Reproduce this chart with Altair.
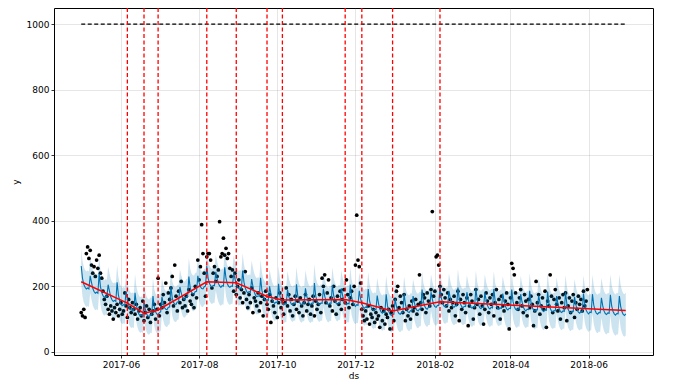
import altair as alt
import pandas as pd

START = "2017-05-01"

# observed daily values (history), from 2017-05-01
y_obs = [
    120, 110, 130, 105, 300, 320, 285, 310, 265, 240,
    260, 230, 280, 255, 295, 240, 225, 185, 160, 145,
    170, 130, 115, 140, 125, 100, 135, 120, 145, 110,
    130, 150, 115, 125, 180, 140, 105, 160, 135, 120,
    150, 130, 115, 145, 100, 125, 135, 110, 155, 95,
    120, 140, 105, 130, 90, 115, 125, 145, 100, 130,
    225, 110, 145, 135, 175, 150, 210, 120, 180, 160,
    195, 230, 140, 265, 170, 125, 185, 150, 215, 135,
    160, 140, 170, 125, 190, 155, 145, 175, 135, 200,
    165, 280, 220, 260, 388, 300, 240, 170, 290, 300,
    300, 280, 195, 240, 260, 215, 230, 250, 397, 290,
    300, 347, 295, 316, 285, 300, 255, 230, 250, 185,
    240, 175, 200, 220, 165, 190, 150, 180, 245, 160,
    135, 175, 150, 195, 120, 165, 155, 140, 180, 125,
    150, 170, 110, 160, 185, 145, 130, 175, 90, 155,
    140, 120, 165, 105, 150, 180, 135, 160, 115, 150,
    195, 140, 175, 125, 160, 110, 145, 170, 130, 155,
    120, 165, 140, 110, 150, 175, 125, 145, 160, 115,
    140, 170, 110, 155, 130, 145, 175, 120, 225, 200,
    235, 150, 180, 220, 140, 165, 125, 200, 155, 115,
    170, 145, 185, 130, 160, 190, 150, 220, 175, 135,
    165, 185, 145, 200, 265, 417, 280, 260, 210, 130,
    110, 95, 125, 100, 140, 85, 115, 105, 130, 90,
    120, 100, 110, 75, 135, 95, 125, 85, 115, 105,
    130, 70, 120, 140, 95, 160, 185, 200, 135, 170,
    150, 120, 175, 95, 130, 110, 140, 100, 155, 125,
    135, 160, 115, 145, 235, 150, 130, 175, 165, 120,
    180, 155, 140, 190, 428, 170, 185, 290, 295, 265,
    200, 175, 150, 190, 165, 140, 180, 125, 160, 135,
    150, 170, 110, 145, 185, 95, 160, 130, 175, 150,
    120, 165, 80, 140, 175, 155, 100, 135, 190, 145,
    160, 115, 170, 140, 85, 130, 180, 155, 120, 165,
    145, 175, 110, 150, 190, 135, 160, 100, 170, 140,
    125, 155, 180, 145, 70, 165, 270, 255, 235, 180,
    150, 130, 165, 190, 140, 120, 175, 155, 110, 160,
    135, 170, 145, 80, 125, 215, 150, 175, 115, 140,
    165, 130, 185, 75, 155, 140, 235, 170, 120, 160,
    190, 145, 125, 165, 100, 150, 175, 135, 180, 95,
    140, 165, 120, 155, 175, 105, 150, 130, 170, 145,
    160, 125, 185, 140, 155, 190,
]

# forecast (yhat) daily, from 2017-05-01 to 2018-06-30, one row per week
yhat = [
    262, 224, 206, 197, 192, 195, 192,
    232, 212, 194, 184, 179, 182, 179,
    238, 199, 181, 171, 166, 170, 167,
    205, 186, 168, 159, 154, 157, 154,
    212, 174, 156, 146, 141, 144, 142,
    184, 161, 143, 132, 127, 129, 126,
    180, 144, 126, 115, 110, 113, 109,
    150, 131, 116, 109, 107, 113, 112,
    170, 137, 122, 115, 113, 120, 122,
    168, 149, 135, 130, 129, 136, 137,
    200, 165, 151, 146, 145, 152, 153,
    198, 181, 167, 161, 161, 168, 169,
    230, 197, 183, 177, 176, 184, 185,
    232, 212, 199, 193, 192, 199, 201,
    262, 226, 210, 202, 198, 203, 202,
    244, 225, 209, 201, 197, 202, 201,
    258, 224, 208, 200, 197, 201, 200,
    240, 223, 207, 197, 193, 196, 193,
    248, 213, 195, 185, 180, 184, 181,
    222, 200, 183, 173, 168, 171, 169,
    226, 188, 170, 161, 156, 159, 157,
    200, 178, 161, 152, 148, 152, 150,
    208, 172, 155, 146, 143, 148, 147,
    190, 170, 154, 146, 143, 148, 147,
    206, 171, 155, 147, 144, 149, 148,
    194, 171, 155, 147, 144, 149, 148,
    210, 171, 155, 147, 144, 149, 148,
    192, 171, 155, 147, 144, 149, 148,
    204, 172, 156, 148, 145, 150, 149,
    194, 172, 156, 148, 144, 148, 147,
    205, 168, 152, 143, 139, 144, 142,
    186, 163, 146, 137, 133, 137, 135,
    192, 156, 139, 130, 126, 130, 128,
    172, 148, 131, 122, 118, 122, 120,
    176, 141, 124, 115, 111, 115, 115,
    162, 139, 124, 117, 115, 120, 120,
    178, 145, 129, 122, 120, 126, 125,
    170, 150, 135, 127, 125, 131, 131,
    190, 155, 140, 133, 130, 136, 136,
    182, 161, 145, 138, 136, 142, 141,
    200, 165, 149, 140, 137, 142, 141,
    186, 164, 147, 139, 136, 141, 140,
    196, 162, 146, 138, 135, 139, 138,
    182, 161, 145, 137, 133, 138, 137,
    194, 160, 143, 135, 132, 137, 136,
    180, 158, 142, 134, 131, 136, 134,
    192, 157, 141, 133, 130, 134, 133,
    178, 156, 140, 131, 128, 133, 132,
    190, 154, 138, 130, 127, 132, 131,
    176, 153, 137, 129, 125, 130, 129,
    186, 152, 136, 127, 124, 129, 128,
    172, 151, 134, 126, 123, 128, 127,
    184, 149, 133, 125, 122, 126, 125,
    170, 148, 132, 123, 120, 125, 124,
    182, 147, 130, 122, 119, 124, 123,
    168, 145, 129, 121, 118, 123, 121,
    178, 144, 128, 120, 116, 121, 120,
    176, 143, 127, 118, 115, 120, 119,
    165, 141, 125, 117, 114, 119, 118,
    174, 140, 124, 116, 112, 117, 116,
    170, 139, 123, 114, 111, 116,
]

# uncertainty band distance below / above yhat, one value per week
band_lo = [55, 52, 56, 53, 57, 54, 52, 55, 58, 53,
           54, 56, 52, 55, 53, 57, 54, 52, 56, 55,
           53, 54, 57, 52, 55, 56, 53, 54, 52, 57,
           55, 53, 56, 54, 52, 55, 57, 53, 54, 56,
           52, 55, 54, 57, 53, 55, 52, 56, 54, 53,
           55, 57, 52, 54, 56, 53, 55, 58, 61, 63, 65]
band_hi = [53, 56, 52, 55, 54, 52, 57, 53, 55, 56,
           52, 54, 57, 53, 55, 52, 56, 54, 53, 57,
           55, 52, 54, 56, 53, 55, 57, 52, 54, 55,
           53, 56, 52, 54, 57, 55, 53, 52, 56, 54,
           55, 53, 57, 52, 54, 56, 55, 53, 52, 56,
           54, 53, 55, 57, 52, 54, 56, 59, 61, 63, 65]

# piecewise-linear trend vertices
trend_dates = ["2017-05-01", "2017-06-06", "2017-06-19", "2017-06-30",
               "2017-08-07", "2017-08-30", "2017-09-23", "2017-10-05",
               "2017-11-23", "2017-12-06", "2017-12-30", "2018-02-05",
               "2018-06-30"]
trend_vals = [214, 149, 118, 128, 214, 211, 169, 158, 160, 150, 125, 153, 126]

changepoints = ["2017-06-06", "2017-06-19", "2017-06-30", "2017-08-07",
                "2017-08-30", "2017-09-23", "2017-10-05", "2017-11-23",
                "2017-12-06", "2017-12-30", "2018-02-05"]

cap_dates = ["2017-05-01", "2018-06-30"]
cap_vals = [1000, 1000]

x_ticks = ["2017-06-01", "2017-08-01", "2017-10-01", "2017-12-01",
           "2018-02-01", "2018-04-01", "2018-06-01"]
y_ticks = [0, 200, 400, 600, 800, 1000]

# ---- tables
fc_ds = pd.date_range(START, periods=len(yhat), freq="D").strftime("%Y-%m-%d")
wk = [min(i // 7, len(band_lo) - 1) for i in range(len(yhat))]
fc = pd.DataFrame({
    "ds": fc_ds,
    "yhat": yhat,
    "lo": [v - band_lo[w] for v, w in zip(yhat, wk)],
    "hi": [v + band_hi[w] for v, w in zip(yhat, wk)],
})
obs = pd.DataFrame({
    "ds": pd.date_range(START, periods=len(y_obs), freq="D").strftime("%Y-%m-%d"),
    "y": y_obs,
})
trend = pd.DataFrame({"ds": trend_dates, "v": trend_vals})
cps = pd.DataFrame({"ds": changepoints})
cap = pd.DataFrame({"ds": cap_dates, "v": cap_vals})


def ms(s):
    return int(pd.Timestamp(s).value // 10**6)


span = pd.Timestamp(fc_ds[-1]) - pd.Timestamp(fc_ds[0])
pad = span * 0.05
x_dom = [int((pd.Timestamp(fc_ds[0]) - pad).value // 10**6),
         int((pd.Timestamp(fc_ds[-1]) + pad).value // 10**6)]

x_scale = alt.Scale(type="utc", domain=x_dom, nice=False)
y_scale = alt.Scale(domain=[-9.5, 1049], nice=False, zero=False)
x_axis = alt.Axis(values=[ms(t) for t in x_ticks], format="%Y-%m", title="ds",
                  labelFlush=False, titlePadding=2)
y_axis = alt.Axis(values=y_ticks, format="d", title="y", titlePadding=6)


def X(f):
    return alt.X(f"{f}:T", scale=x_scale, axis=x_axis)


def Y(f):
    return alt.Y(f"{f}:Q", scale=y_scale, axis=y_axis)


dots = alt.Chart(obs).mark_circle(size=14, color="black", opacity=1).encode(
    x=X("ds"), y=Y("y"))
line = alt.Chart(fc).mark_line(color="#0072B2", strokeWidth=1.1).encode(
    x=X("ds"), y=Y("yhat"))
capl = alt.Chart(cap).mark_line(color="black", strokeWidth=1.3,
                                strokeDash=[4, 2.5]).encode(x=X("ds"), y=Y("v"))
band = alt.Chart(fc).mark_area(color="#0072B2", opacity=0.2).encode(
    x=X("ds"), y=Y("lo"), y2="hi")
trendl = alt.Chart(trend).mark_line(color="red", strokeWidth=1.5).encode(
    x=X("ds"), y=Y("v"))
cpl = alt.Chart(cps).mark_rule(color="red", strokeWidth=1.3,
                               strokeDash=[4, 2.5]).encode(x=X("ds"))

chart = alt.layer(dots, line, capl, band, trendl, cpl).properties(
    width=599, height=347,
    padding={"left": 46, "top": 0, "right": 10, "bottom": 26},
    autosize=alt.AutoSizeParams(type="none"),
).configure_view(
    stroke="black", strokeWidth=1
).configure_axis(
    grid=True, gridColor="#808080", gridOpacity=0.2, gridWidth=1,
    domain=False, ticks=True, tickColor="black", tickSize=3, tickWidth=0.8,
    labelFont="DejaVu Sans", labelFontSize=9, labelColor="black", labelPadding=2,
    titleFont="DejaVu Sans", titleFontSize=9, titleFontWeight="normal",
    titleColor="black",
)

chart.save("out.html", embed_options={"renderer": "svg", "actions": False})
